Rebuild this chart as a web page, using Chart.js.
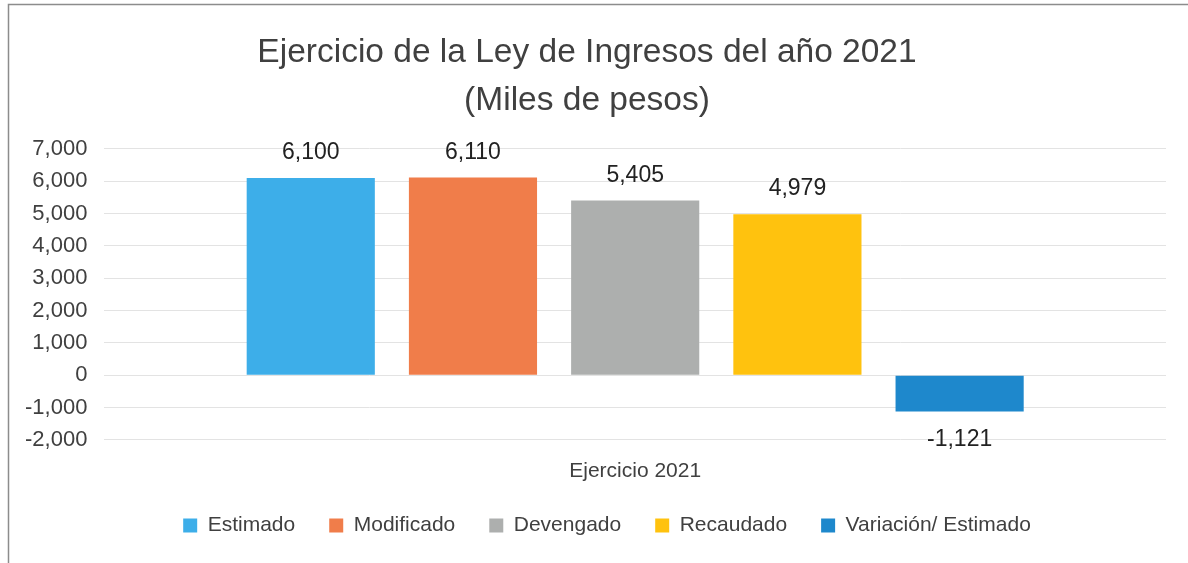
<!DOCTYPE html>
<html>
<head>
<meta charset="utf-8">
<script src="https://cdn.jsdelivr.net/npm/chart.js@4"></script>
<style>
html,body{margin:0;padding:0;background:#fff;}
#wrap{position:relative;width:1188px;height:563px;}
</style>
</head>
<body>
<div id="wrap"><canvas id="c" width="1188" height="563"></canvas></div>
<script>
const categories = ["Ejercicio 2021"];
const seriesNames = ["Estimado", "Modificado", "Devengado", "Recaudado", "Variación/ Estimado"];
const seriesValues = [6100, 6110, 5405, 4979, -1121];
const seriesColors = ["#3DAEE9", "#F07D4A", "#ADAFAE", "#FFC20E", "#1E88CC"];
const titleLines = ["Ejercicio de la Ley de Ingresos del año 2021", "(Miles de pesos)"];
const yMin = -2000, yMax = 7000, yStep = 1000;

const FONT = "'Liberation Sans', Arial, sans-serif";
const TEXT = "#404040";
const fmt = v => Number(v).toLocaleString('en-US');

const frame = {
  id: 'frame',
  beforeDraw(chart) {
    const ctx = chart.ctx;
    ctx.save();
    ctx.fillStyle = '#fff';
    ctx.fillRect(0, 0, chart.width, chart.height);
    ctx.strokeStyle = '#8c8c8c';
    ctx.lineWidth = 1.5;
    ctx.strokeRect(8.5, 4.5, 1182, 560);
    ctx.restore();
  }
};

// nudge legend block to sit like the reference (centred under the plot, a bit higher)
const legendNudge = {
  id: 'legendNudge',
  afterLayout(chart) {
    const lg = chart.legend;
    if (!lg) return;
    lg.left += 20; lg.right += 20;
    lg.top -= 14; lg.bottom -= 14;
  }
};

const valueLabels = {
  id: 'valueLabels',
  afterDatasetsDraw(chart) {
    const ctx = chart.ctx;
    ctx.save();
    ctx.font = "23px " + FONT;
    ctx.fillStyle = "#222";
    ctx.textAlign = 'center';
    ctx.textBaseline = 'middle';
    chart.data.datasets.forEach((ds, i) => {
      const meta = chart.getDatasetMeta(i);
      meta.data.forEach((bar, j) => {
        const v = ds.data[j];
        const y = v >= 0 ? bar.y - 25 : bar.y + 28;
        ctx.fillText(fmt(v), bar.x, y);
      });
    });
    ctx.restore();
  }
};

const datasets = seriesNames.map((name, i) => ({
  label: name,
  data: [seriesValues[i]],
  backgroundColor: seriesColors[i],
  borderWidth: 0,
  categoryPercentage: 0.764,
  barPercentage: 0.79
}));

new Chart(document.getElementById('c'), {
  type: 'bar',
  data: { labels: categories, datasets },
  options: {
    responsive: false,
    animation: false,
    layout: { padding: { left: 8, right: 22, top: 23, bottom: 3 } },
    plugins: {
      title: {
        display: true,
        text: titleLines,
        color: TEXT,
        font: { family: FONT, size: 33.5, weight: 'normal', lineHeight: 1.43 },
        padding: { top: 6, bottom: 24 }
      },
      legend: {
        display: true,
        position: 'bottom',
        labels: {
          color: TEXT,
          font: { family: FONT, size: 21 },
          boxWidth: 14,
          boxHeight: 14,
          padding: 34
        }
      },
      tooltip: { enabled: false }
    },
    scales: {
      x: {
        grid: { display: false },
        border: { display: false },
        ticks: { color: TEXT, font: { family: FONT, size: 21 }, padding: 11 }
      },
      y: {
        min: yMin, max: yMax,
        ticks: { stepSize: yStep, color: TEXT, font: { family: FONT, size: 22 }, padding: 17, callback: v => fmt(v) },
        grid: { color: '#e3e3e3', drawTicks: false },
        border: { display: false }
      }
    }
  },
  plugins: [frame, legendNudge, valueLabels]
});
</script>
</body>
</html>
